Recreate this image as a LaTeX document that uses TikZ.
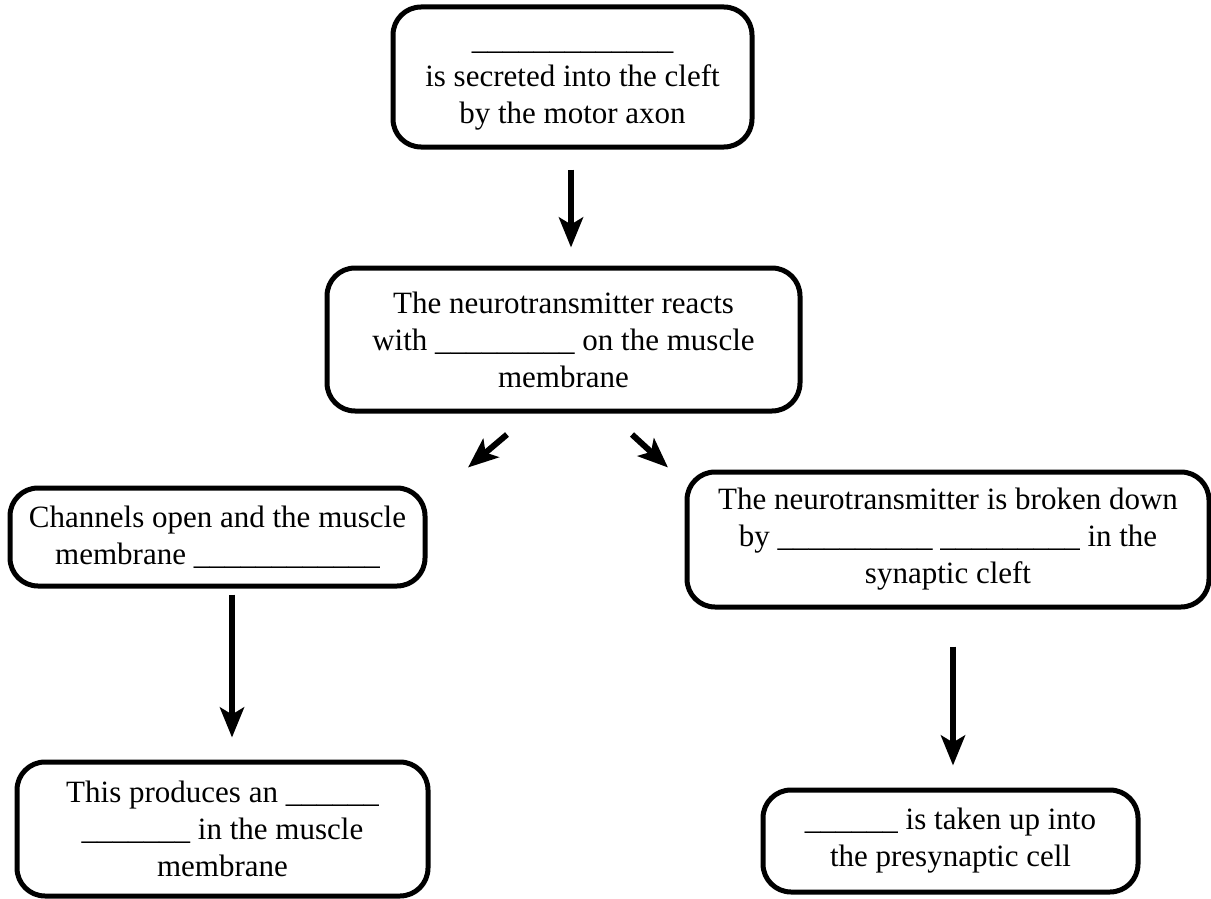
\documentclass[tikz,border=0pt]{standalone}
\usepackage{fontspec}
\setmainfont{Liberation Serif}
\usetikzlibrary{arrows.meta,calc}
\newcommand{\blanks}[1]{\foreach \k in {1,...,#1}{\_}}

\begin{document}
\begin{tikzpicture}
[x=1pt,y=-1pt,
 boxDecorate/.style={draw,line width=5pt,rounded corners=28pt,inner sep=0pt,align=center,%
   font=\fontsize{31}{37}\selectfont},%
 arrowDecorate/.style={line width=6pt,-{Stealth[length=30pt,width=24pt,inset=7pt]}}]
\useasboundingbox (0,0) rectangle (1211,899);
%% boxes
\node (secreted) at (572.5,77) [boxDecorate,minimum width=359pt,minimum height=140pt]
  {\strut\blanks{13}\\is secreted into the cleft\\by the motor axon};
\node (reacts) at (563.5,339.5) [boxDecorate,minimum width=473pt,minimum height=143pt]
  {The neurotransmitter reacts\\with \blanks{9} on the muscle\\membrane};
\node (channels) at (217.5,537) [boxDecorate,minimum width=415pt,minimum height=98pt]
  {Channels open and the muscle\\membrane \blanks{12}};
\node (broken) at (948,539.5) [boxDecorate,minimum width=522pt,minimum height=135pt]
  {The neurotransmitter is broken down\\by \blanks{10} \blanks{9} in the\\synaptic cleft};
\node (potential) at (222.5,829) [boxDecorate,minimum width=411pt,minimum height=134pt]
  {This produces an \blanks{6}\\\blanks{7} in the muscle\\membrane};
\node (reuptake) at (950.5,841) [boxDecorate,minimum width=375pt,minimum height=102pt]
  {\blanks{6} is taken up into\\the presynaptic cell};
%% arrows
\draw[arrowDecorate] ($(secreted.south)+(-1.5,20)$) -- ($(reacts.north)+(7.5,-18)$);
\draw[arrowDecorate] ($(reacts.south)+(-56.5,21)$) -- ($(channels.north)+(250.5,-18)$);
\draw[arrowDecorate] ($(reacts.south)+(68.5,21)$) -- ($(broken.north)+(-280,-2)$);
\draw[arrowDecorate] ($(channels.south)+(14.5,6)$) -- ($(potential.north)+(9.5,-22)$);
\draw[arrowDecorate] ($(broken.south)+(5,37)$) -- ($(reuptake.north)+(2.5,-22)$);
\end{tikzpicture}
\end{document}
